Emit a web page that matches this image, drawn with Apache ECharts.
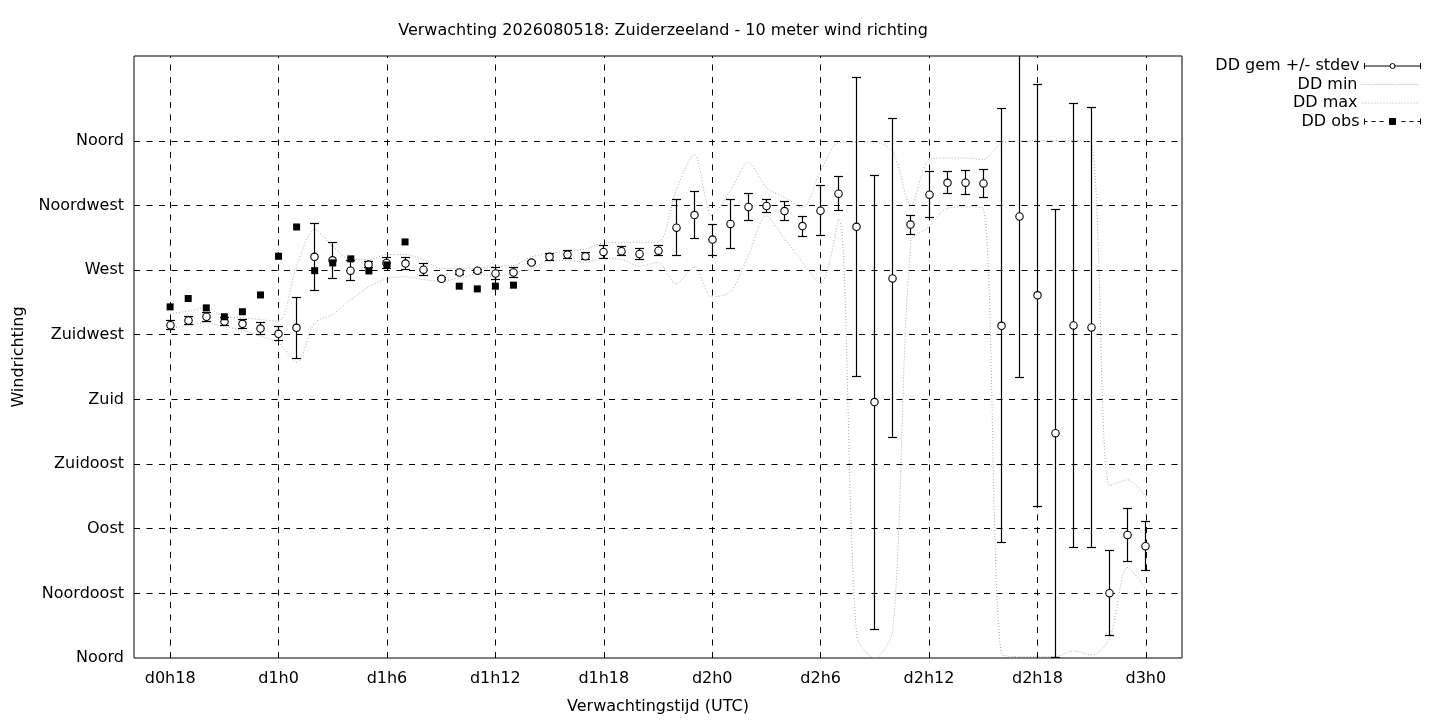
<!DOCTYPE html>
<html>
<head>
<meta charset="utf-8">
<title>Verwachting windrichting</title>
<script src="https://cdn.jsdelivr.net/npm/echarts@6/dist/echarts.min.js"></script>
<style>
  html, body { margin: 0; padding: 0; background: #fff; }
  #chart { width: 1440px; height: 720px; }
</style>
</head>
<body>
<div id="chart"></div>
<script>
// uren sinds d0h0
var hours = [18, 19, 20, 21, 22, 23, 24, 25, 26, 27, 28, 29, 30, 31, 32, 33, 34, 35, 36,
  37, 38, 39, 40, 41, 42, 43, 44, 45, 46, 47, 48, 49, 50, 51, 52, 53, 54, 55, 56, 57,
  58, 59, 60, 61, 62, 63, 64, 65, 66, 67, 68, 69, 70, 71, 72];

// gemiddelde richting (graden)
var ddMean = [231.6, 234.9, 237.5, 234.2, 232.6, 229.3, 225.6, 229.8, 279.2, 276.8, 269.6,
  273.8, 275.0, 274.5, 270.3, 263.9, 268.3, 269.6, 267.6, 268.3, 275.2, 279.2, 280.8,
  279.6, 282.6, 283.1, 281.2, 283.5, 299.5, 308.3, 291.2, 302.1, 313.9, 314.6, 311.1,
  300.6, 311.3, 323.2, 300.1, 178.1, 264.2, 301.7, 322.5, 330.7, 330.8, 330.3, 231.2,
  307.3, 252.4, 156.5, 231.5, 230.1, 45.1, 85.6, 77.8];

// standaarddeviatie
var ddStdev = [3.0, 2.8, 3.0, 2.5, 3.0, 4.4, 4.9, 21.0, 23.4, 12.6, 7.0, 2.3, 4.0, 4.2,
  4.2, 0.8, 1.5, 1.0, 4.3, 3.2, 0.8, 2.5, 2.5, 2.5, 4.4, 3.0, 4.0, 3.7, 19.6, 16.3,
  10.8, 17.0, 9.6, 4.4, 6.3, 7.0, 17.3, 11.7, 104.0, 158.0, 111.0, 6.6, 16.0, 7.6,
  8.4, 9.7, 151.0, 112.4, 146.8, 156.0, 154.7, 153.4, 29.6, 18.3, 17.0];

var ddMin = [229.3, 231.4, 233.3, 230.5, 228.2, 224.0, 219.4, 205.9, 233.3, 239.1, 249.5,
  258.3, 263.9, 265.3, 263.4, 262.2, 264.6, 266.9, 265.7, 268.0, 271.0, 276.8, 276.8,
  275.4, 278.5, 277.3, 272.7, 275.5, 260.5, 272.1, 251.3, 254.8, 280.2, 307.8, 291.7,
  275.5, 260.5, 305.5, 15.0, 0.0, 20.0, 290.0, 300.0, 313.0, 314.0, 313.0, 3.0, 1.0,
  1.0, 1.0, 5.0, 2.0, 14.0, 63.0, 48.0];

var ddMax = [239.5, 241.5, 243.7, 237.9, 236.8, 235.6, 234.4, 272.7, 298.1, 286.6, 277.3,
  277.3, 280.8, 280.8, 277.3, 271.0, 271.0, 271.5, 272.7, 273.1, 279.2, 281.5, 283.1,
  284.7, 288.9, 289.3, 289.3, 289.3, 325.2, 350.5, 307.8, 325.2, 344.8, 327.5, 320.5,
  313.6, 339.0, 358.6, 359.0, 359.0, 352.0, 315.0, 347.0, 348.0, 348.0, 347.0, 358.0,
  360.0, 360.0, 360.0, 360.0, 358.0, 120.0, 124.0, 112.0];

// waarnemingen
var obsHours = [18, 19, 20, 21, 22, 23, 24, 25, 26, 27, 28, 29, 30, 31, 34, 35, 36, 37];
var obsValues = [244.4, 250.2, 243.7, 237.5, 241.0, 252.7, 279.6, 300.0, 269.6, 275.0,
  277.8, 269.4, 273.6, 289.6, 258.8, 256.9, 258.8, 259.5];

// assen
var xTicks = [18, 24, 30, 36, 42, 48, 54, 60, 66, 72];
var xTickLabels = ['d0h18', 'd1h0', 'd1h6', 'd1h12', 'd1h18', 'd2h0', 'd2h6', 'd2h12', 'd2h18', 'd3h0'];
var yTicks = [0, 45, 90, 135, 180, 225, 270, 315, 360];
var yTickLabels = ['Noord', 'Noordoost', 'Oost', 'Zuidoost', 'Zuid', 'Zuidwest', 'West', 'Noordwest', 'Noord'];

var FONT = 'DejaVu Sans';
var FS = 16;

function zip(xs, ys) {
  return xs.map(function (x, i) { return [x, ys[i]]; });
}

// halve pixels voor scherpe lijnen
function px(v) { return Math.round(v - 0.5) + 0.5; }

var chart = echarts.init(document.getElementById('chart'));

var gridLine = { color: '#000', width: 1, type: [6, 6.5] };
var gridMarks = [];
xTicks.forEach(function (v) { gridMarks.push({ xAxis: v }); });
yTicks.forEach(function (v) { if (v > 0) gridMarks.push({ yAxis: v }); });

var dotted = { color: '#a8a8a8', width: 1, type: [1, 2] };

function legendBox(name, top, icon, itemStyle) {
  return {
    data: [{ name: name, icon: icon, itemStyle: itemStyle }],
    orient: 'vertical',
    right: 19,
    top: top,
    padding: 0,
    align: 'right',
    itemWidth: 56,
    itemHeight: 6,
    selectedMode: false,
    textStyle: { fontFamily: FONT, fontSize: FS, color: '#000' }
  };
}

var dottedIcon = 'path://M0 0M0 3H56M56 6';
var dottedStyle = { color: 'none', borderColor: '#a8a8a8', borderWidth: 1, borderType: [1, 2] };

var option = {
  backgroundColor: '#fff',
  animation: false,
  title: {
    text: 'Verwachting 2026080518: Zuiderzeeland - 10 meter wind richting',
    left: 658,
    textAlign: 'center',
    top: 18,
    textStyle: { fontFamily: FONT, fontSize: FS, fontWeight: 'normal', color: '#000' }
  },
  legend: [
    legendBox('DD gem +/- stdev', 58,
      'path://M0 0V6M0 3H25.5M30.5 3H56M56 0V6M30.5 3A2.5 2.5 0 1 1 25.5 3A2.5 2.5 0 1 1 30.5 3',
      { color: '#fff', borderColor: '#000', borderWidth: 1 }),
    legendBox('DD min', 76.5, dottedIcon, dottedStyle),
    legendBox('DD max', 95, dottedIcon, dottedStyle),
    legendBox('DD obs', 113.5,
      'path://M0 0V6M0 3H3M7 3H11M15 3H19M37 3H41M45 3H49M53 3H56M56 0V6M25 0H31V6H25Z',
      { color: '#000', borderColor: '#000', borderWidth: 1 })
  ],
  grid: {
    left: 134, right: 258, top: 56, bottom: 61,
    show: true, borderColor: '#000', borderWidth: 1, backgroundColor: 'transparent'
  },
  xAxis: {
    type: 'value',
    min: 16,
    max: 74,
    name: 'Verwachtingstijd (UTC)',
    nameLocation: 'middle',
    nameGap: 41,
    nameTextStyle: { fontFamily: FONT, fontSize: FS, color: '#000' },
    axisLine: { show: false },
    axisTick: { show: false },
    splitLine: { show: false },
    axisLabel: {
      customValues: xTicks,
      margin: 13,
      fontFamily: FONT, fontSize: FS, color: '#000',
      formatter: function (v) {
        var i = xTicks.indexOf(v);
        return i >= 0 ? xTickLabels[i] : '';
      }
    }
  },
  yAxis: {
    type: 'value',
    min: 0,
    max: 419,
    name: 'Windrichting',
    nameLocation: 'middle',
    nameRotate: 90,
    nameGap: 107,
    nameTextStyle: { fontFamily: FONT, fontSize: FS, color: '#000' },
    axisLine: { show: false },
    axisTick: { show: false },
    splitLine: { show: false },
    axisLabel: {
      customValues: yTicks,
      margin: 10,
      fontFamily: FONT, fontSize: FS, color: '#000',
      formatter: function (v) {
        var i = yTicks.indexOf(v);
        return i >= 0 ? yTickLabels[i] : '';
      }
    }
  },
  series: [
    {
      name: 'DD min',
      type: 'line',
      z: 3,
      data: zip(hours, ddMin),
      symbol: 'none',
      smooth: 0.3,
      color: '#a8a8a8',
      lineStyle: dotted,
      clip: true,
      markLine: {
        silent: true,
        z: 1,
        symbol: 'none',
        label: { show: false },
        lineStyle: gridLine,
        emphasis: { disabled: true },
        data: gridMarks
      }
    },
    {
      name: 'DD max',
      type: 'line',
      z: 3,
      data: zip(hours, ddMax),
      symbol: 'none',
      smooth: 0.3,
      color: '#a8a8a8',
      lineStyle: dotted,
      clip: true
    },
    {
      name: 'DD gem +/- stdev',
      type: 'custom',
      z: 4,
      clip: true,
      color: '#000',
      data: hours.map(function (h, i) { return [h, ddMean[i], ddStdev[i]]; }),
      encode: { x: 0, y: 1 },
      renderItem: function (params, api) {
        var x = api.value(0), m = api.value(1), s = api.value(2);
        var top = api.coord([x, m + s]);
        var bot = api.coord([x, m - s]);
        var mid = api.coord([x, m]);
        var cx = px(mid[0]);
        var yt = px(top[1]), yb = px(bot[1]);
        var cap = 4.5;
        var st = { stroke: '#000', lineWidth: 1.2, fill: null };
        return {
          type: 'group',
          children: [
            { type: 'line', shape: { x1: cx, y1: yt, x2: cx, y2: yb }, style: st },
            { type: 'line', shape: { x1: cx - cap, y1: yt, x2: cx + cap, y2: yt }, style: st },
            { type: 'line', shape: { x1: cx - cap, y1: yb, x2: cx + cap, y2: yb }, style: st },
            { type: 'circle', shape: { cx: cx, cy: mid[1], r: 3.7 }, style: { fill: '#fff', stroke: '#000', lineWidth: 1.1 } }
          ]
        };
      }
    },
    {
      name: 'DD obs',
      type: 'scatter',
      z: 5,
      data: zip(obsHours, obsValues),
      symbol: 'rect',
      symbolSize: 7,
      itemStyle: { color: '#000', opacity: 1 }
    }
  ]
};

chart.setOption(option);
</script>
</body>
</html>
